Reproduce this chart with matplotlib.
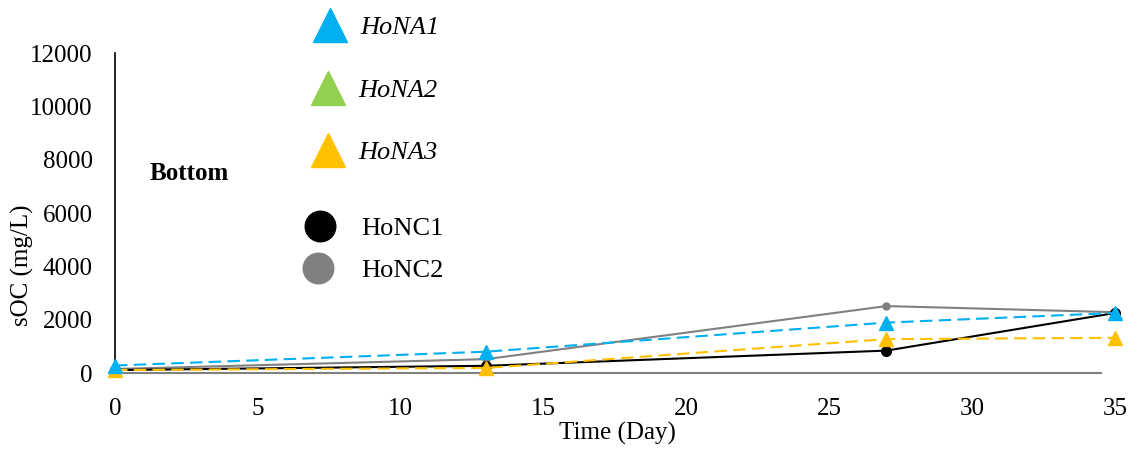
import matplotlib.pyplot as plt
from matplotlib.lines import Line2D

plt.rcParams['font.family'] = ['Liberation Serif', 'DejaVu Serif']

days = [0, 13, 27, 35]
hona1 = [280, 800, 1890, 2250]
hona3 = [110, 190, 1270, 1320]
honc1 = [110, 270, 840, 2250]
honc2 = [150, 520, 2510, 2280]

blue = '#00B0F0'
green = '#92D050'
orange = '#FFC000'
black = '#000000'
gray = '#808080'

fig = plt.figure(figsize=(11.37, 4.49), dpi=100)
ax = fig.add_axes([115/1137, 76/449, 1000/1137, 320/449])

ax.plot(days, honc2, color=gray, lw=1.5, marker='o', ms=5, zorder=2, clip_on=False)
ax.plot(days, honc1, color=black, lw=1.5, marker='o', ms=7, zorder=3, clip_on=False)
ax.plot(days, hona3, color=orange, lw=1.5, ls=(0, (6, 3)), marker='^', ms=10, zorder=4, clip_on=False)
ax.plot(days, hona1, color=blue, lw=1.5, ls=(0, (6, 3)), marker='^', ms=10, zorder=5, clip_on=False)

ax.set_xlim(0, 35)
ax.set_ylim(0, 12000)
ax.set_xticks(range(0, 36, 5))
ax.set_yticks(range(0, 12001, 2000))
for s in ['top', 'right']:
    ax.spines[s].set_visible(False)
ax.spines['left'].set_color('black')
ax.spines['left'].set_linewidth(1.2)
ax.spines['bottom'].set_color(gray)
ax.spines['bottom'].set_linewidth(1.5)
ax.spines['bottom'].set_bounds(-0.2, 34.5)
ax.tick_params(length=0, labelsize=18)
ax.tick_params(axis='y', pad=16)
ax.tick_params(axis='x', pad=18)

fig.text(617/1137, 1 - 433/449, 'Time (Day)', fontsize=18, ha='center', va='center')
fig.text(22/1137, 1 - 265/449, 'sOC (mg/L)', fontsize=18, rotation=90, ha='center', va='center')
fig.text(150/1137, 1 - 173/449, 'Bottom', fontsize=18, fontweight='bold', ha='left', va='center')

# legend
leg = [
    ('HoNA1', blue, '^', 330, 25, 'italic'),
    ('HoNA2', green, '^', 328, 88, 'italic'),
    ('HoNA3', orange, '^', 328, 150, 'italic'),
    ('HoNC1', black, 'o', 320, 226, 'normal'),
    ('HoNC2', gray, 'o', 318, 268, 'normal'),
]
for name, c, m, px, py, st in leg:
    fig.add_artist(Line2D([px/1137], [1 - py/449], marker=m, color=c, ms=24 if m == '^' else 22,
                          ls='none', transform=fig.transFigure))
    fig.text((px + 30)/1137 if m == '^' else 361/1137, 1 - (py + 3)/449, name, fontsize=19,
             style=st, ha='left', va='center')

fig.savefig('out.png', dpi=100)
